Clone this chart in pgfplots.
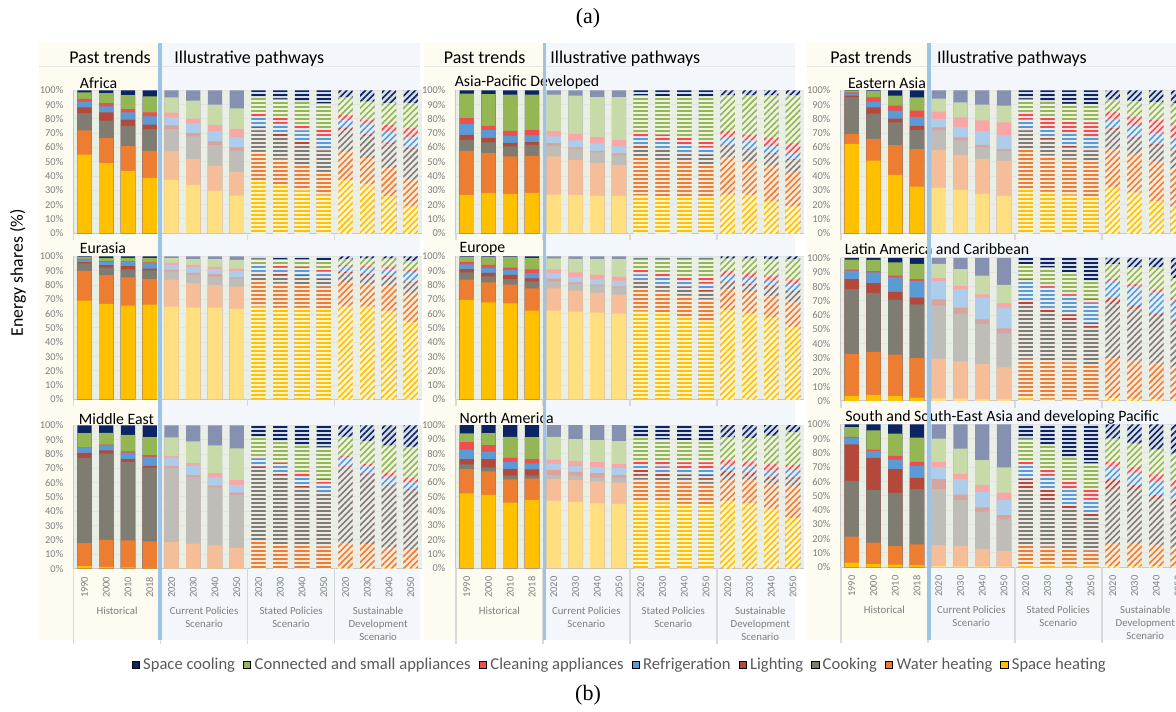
\documentclass[border=0pt]{standalone}
\usepackage{fontspec}
\setmainfont{Carlito}
\newfontfamily\seriffont{Liberation Serif}
\usepackage{pgfplots}
\usepackage{pgfplotstable}
\pgfplotsset{compat=1.18}
\usetikzlibrary{patterns.meta}

\definecolor{cHeat}{HTML}{FFC000}
\definecolor{cWater}{HTML}{ED7D31}
\definecolor{cCook}{HTML}{7F7C72}
\definecolor{cLight}{HTML}{B4493A}
\definecolor{cRefr}{HTML}{5B9BD5}
\definecolor{cClean}{HTML}{F04D4D}
\definecolor{cConn}{HTML}{94B653}
\definecolor{cCool}{HTML}{0D2463}
\definecolor{plotbg}{HTML}{EAEFE6}
\definecolor{cream}{HTML}{FEFBF1}
\definecolor{paleblue}{HTML}{F3F7FB}
\definecolor{sepblue}{HTML}{9DC3E6}
\definecolor{ticktext}{HTML}{7F7F7F}
\definecolor{legtext}{HTML}{595959}
\definecolor{sepgrey}{HTML}{D9D9D9}

% cumulative upper boundaries (%) of each end use, bottom to top; space cooling tops at 100
% x: 0-3 Historical 1990,2000,2010,2018; 4-7 CPS; 8-11 STEPS; 12-15 SDS (2020,2030,2040,2050)
\pgfplotstableread{
x heat water cook light refr clean conn
0 55 72 84 88 92 94 98.6
1 49 66.5 78.7 84.6 88.8 91 98
2 43.7 61.2 75.2 79.4 84.6 86.9 96.7
3 38.8 57.7 72.9 76 81.8 84.6 95.8
4 37.4 57.2 72.9 75.5 81 84.3 95
5 33.9 52.1 67.8 70 76.9 80.1 92.8
6 29.7 47.4 61.7 64.3 71.7 75.9 90
7 26.4 43.2 57.7 60 67.5 73.1 87.4
8 37 57 72 74.5 80.5 84 95
9 33 52 68 70 77 80.5 94
10 30 47 62 64.5 72 76 92
11 27 43 58 60 68 73 91
12 37 57 72 74 79 83 95
13 34 52.5 68 69.5 77 79.5 92
14 26 45.5 62 63.5 71 76 91
15 18.7 37.4 58.4 60 67 73.6 91
}\tAfrica
\pgfplotstableread{
x heat water cook light refr clean conn
0 69.1 90 95.1 96 97.9 98.4 99.5
1 66.8 87 92.3 94 96.3 96.8 98.8
2 65.7 85.4 91 93.5 96 96.5 99
3 66.4 84.2 90.3 91.6 95.4 95.8 99
4 65 83.8 89.6 90.7 94.2 95.6 98.8
5 64.3 81.4 87.2 88.6 92.6 94 98.1
6 64.3 80 86 87.7 91.2 92.8 98.1
7 63.3 78.9 84.7 85.4 90 91.6 97.7
8 65 82.5 88.5 89.5 93.5 94.5 98.5
9 64 81 87 88 92.5 93.5 98
10 64 80.5 86 87 91.5 93 98
11 63 79 83.5 84.5 89.5 91 97.5
12 65 82 88 89 93 94 98
13 65 80.5 87 88 92 93.5 98.5
14 62 80 85.5 86.5 91 93 98.5
15 54 74 81 82 89 91 97
}\tEurasia
\pgfplotstableread{
x heat water cook light refr clean conn
0 1.6 17.8 77.3 80.8 84.3 84.7 94.7
1 1.2 20.1 80.3 82.6 86.1 86.6 94.9
2 0.7 19.7 74.5 76.4 81 81.9 93.5
3 0.5 19 70.6 71.8 78 79.2 91.9
4 0.3 18.5 70.4 71.8 77.3 78.7 91.7
5 0.3 17.4 64.1 65.3 71.8 73.6 88.9
6 0.2 16.2 56.7 57.9 63.7 66.7 86.1
7 0.2 14.6 51.4 53 58.3 61.8 84
8 0.3 18.5 70 71.5 77 79 92
9 0.3 17 65 66.5 72 74 89
10 0.2 16 56.5 58 64 68 86
11 0.2 15.5 53 54 59.5 62.5 85
12 0.3 17.5 71 72 77.5 79 92
13 0.3 17 65.5 66.5 71.5 73 89
14 0.2 14.5 57.5 58.5 64 67 86
15 0.2 13.5 54.5 55.5 60 63.5 85
}\tMiddleEast
\pgfplotstableread{
x heat water cook light refr clean conn
0 26.9 57.7 65.4 68.9 76.6 80.6 97.7
1 28.3 56.1 63.6 66.8 72.4 75.2 97.4
2 27.6 53.7 60.7 63.3 68 71.7 97
3 28.3 54.2 61.9 63.8 68.5 72.4 97
4 27.1 53.7 61.2 63.1 67.8 71.7 97
5 26.9 51.4 59.1 60 65 69.6 96.3
6 26.2 49.3 56.5 57.7 62.9 67.5 95.3
7 26.2 47.9 54.4 55.8 60.7 65.4 95.3
8 26.5 53 60.5 62 67.5 71 96.5
9 26 51 58.5 59.5 64.5 69 96
10 26 50 56 57 62 67 96
11 25 48 54 55 60 64.5 95.5
12 27 53 60.5 61.5 67 71.5 96.5
13 26.5 50.5 58 59 65 69 96.5
14 22.5 47 55 56 61 67 96.5
15 18.7 42.5 51 52 56 63 96.5
}\tAPD
\pgfplotstableread{
x heat water cook light refr clean conn
0 69.6 83.8 88.9 91.2 94.4 96.3 99.5
1 68 81.9 86.1 88.6 92.1 94.2 99.5
2 67.3 80.3 84.2 87.2 90.5 92.3 99.5
3 62.2 77.7 82.6 84.7 88.4 91 99
4 62.2 77.7 82.6 84.5 88.2 91 98.6
5 61.5 76.1 80.7 81.9 85.8 88.9 98.4
6 60.8 74.7 79.6 80.3 84 87.2 98.1
7 60.1 73.3 78.4 79.1 82.6 85.8 98.1
8 62 77.5 82 83.5 87.5 90.5 98.5
9 61 76 80 81 85.5 88.5 98.5
10 57 73 78 79 83 86 98.5
11 54.5 70 75.5 77 81 85 98.5
12 62.5 77 81.5 82.5 87 90 98.5
13 60 75 80 81 85 88.5 98.5
14 57 72 78.5 79.5 83 86.5 98
15 50.5 68 75 76 80.5 84 98
}\tEurope
\pgfplotstableread{
x heat water cook light refr clean conn
0 52.3 69.3 72.6 76.3 83 88.1 94.2
1 51.2 67.7 70.5 76.3 81.6 86 94.4
2 45.8 62.1 64.9 69.3 74.2 77.2 91.9
3 47.7 62.6 64.9 69.1 73.3 76.3 91.6
4 47 62.3 65.1 68.8 72.8 76 91.9
5 46.3 61.6 64.7 67.4 71.6 74.9 90.2
6 45.3 60.7 63.5 66.5 70.5 74.2 89.5
7 44.9 59.8 63.3 65.1 70.2 73 88.8
8 47 62 65 68.5 72.5 76 91.5
9 46 61.5 64 67 71 75 90
10 45 60 63 65.5 70 74 89.5
11 44.5 59.5 62.5 65 69.5 74 89
12 47 61.5 64.5 68 72 76 91.5
13 45.5 61.5 64 67 71 74.5 91
14 41.5 58.5 61.5 64 68 73 92.5
15 35 57.5 62 63.5 68.5 72 95
}\tNAmerica
\pgfplotstableread{
x heat water cook light refr clean conn
0 62.6 69.6 95.3 96.3 97.7 98.6 99.8
1 50.9 66.1 83.6 88.1 92.1 95.1 99.4
2 40.9 61.7 77.6 80.1 85.7 89.3 96.3
3 32.7 58.9 72.4 75.2 81.3 85.7 95.1
4 31.8 58.4 72 74.1 79.9 85 94.2
5 30.4 54.9 65 67.1 74.3 81.1 91.6
6 27.6 52.1 60 61.9 71.3 79 90
7 26.2 50.9 57.7 59.1 68.5 77.6 89.3
8 31 58.5 72 74 79.5 85 94
9 29 54.5 65.5 67.5 73.5 80.5 91.5
10 27 52 60 62 69.5 78 90.5
11 25 50.5 58 59.5 67.5 77.5 90
12 32 58.5 72 73.5 79.5 85 93.5
13 28.5 55.5 66 67.5 75 81.5 92.5
14 22.5 50 61 62.5 70 79.5 91.5
15 18 45 57 58.5 66 77 91
}\tEAsia
\pgfplotstableread{
x heat water cook light refr clean conn
0 3.5 32.9 78.2 85.2 91.1 91.8 98.8
1 4.2 34.3 75.4 82.4 89.9 90.8 98.6
2 3.5 32.4 70.7 76.3 86.4 87.6 96.9
3 2.3 30 67.6 72.3 84 85.2 95.8
4 1.9 29.6 66.9 71.1 84 85.9 95.8
5 1.6 27.7 61 65.3 78.2 80.5 92.3
6 1.2 25.8 54 57 72.3 74.6 87.6
7 1.2 23.5 47.2 50.7 65.3 68.3 81.2
8 1.8 29.5 66.4 71 84 85.2 95.7
9 1.5 28 61.7 65.3 79.8 81.7 93.4
10 1.2 27 56.3 60.5 74.2 75.8 90
11 1 25.3 51.6 54.7 68.8 71.2 84
12 1.8 30 67.6 72.3 84 85.2 95.7
13 1.5 28.2 64 67 80 81.7 93.4
14 1.2 26.5 59.4 61.3 75.8 78 93.4
15 1 24 55.4 57 70 72.3 86
}\tLatAm
\pgfplotstableread{
x heat water cook light refr clean conn
0 3.3 21.4 60.5 86 90.5 91.2 98.1
1 2.3 17.2 54 76.5 81.2 82.3 95.8
2 1.9 14.9 52.1 68.6 75.3 77.9 93.5
3 1.6 16 54.7 62.6 70.9 73.7 90.7
4 0.9 15.6 54.7 61.6 69.8 73.7 90
5 0.7 14.9 47 50.9 61.6 65.1 83
6 0.7 12.8 38.8 41.9 52.8 57.4 74.9
7 0.7 11.4 33.5 36.5 47 52.3 69.8
8 0.9 15.6 54.4 62 71 73.7 90
9 0.8 14.4 47 54 64.4 68 85.3
10 0.7 12.6 40 43.5 54 59.8 76.7
11 0.7 11.6 34.9 37.7 47.7 55 72.6
12 0.9 16.3 54.4 61.6 70.2 73.7 90
13 0.8 16.3 54 57.4 66 70.2 86.5
14 0.7 15.6 47.4 50.5 59.8 65 82.3
15 0.7 14 44.6 47 54.4 61.6 79.5
}\tSAsia

\pgfplotsset{
  bb/.style={ybar, bar width=0.66, bar shift=0pt, draw=none},
  gH/.style={fill=#1},
  gP/.style={fill=#1!50!white},
  gS/.style={fill=#1!16!white, postaction={pattern={Lines[angle=0,distance=2pt,line width=1pt]}, pattern color=#1}},
  gD/.style={fill=#1!16!white, postaction={pattern={Lines[angle=45,distance=2.2pt,line width=0.8pt]}, pattern color=#1}},
  panel/.style={
    scale only axis, width=174pt, height=71.5pt,
    xmin=-0.5, xmax=15.5, ymin=0, ymax=100,
    axis background/.style={fill=plotbg},
    axis x line*=bottom, axis y line*=left,
    axis line style={draw=black!22, line width=0.5pt},
    ytick={0,10,...,100},
    yticklabel={\pgfmathprintnumber[assume math mode=true]{\tick}\%},
    yticklabel style={font=\fontsize{5.2}{6}\selectfont, text=ticktext, inner sep=0pt, anchor=east},
    yticklabel shift=5pt,
    major tick length=0pt,
    ymajorgrids, grid style={draw=black!11, line width=0.5pt},
    xtick=\empty,
    clip=false,
  },
  lastrow/.style={
    xtick={0,...,15},
    xticklabels={1990,2000,2010,2018,2020,2030,2040,2050,2020,2030,2040,2050,2020,2030,2040,2050},
    xticklabel style={rotate=90, anchor=east, font=\fontsize{5.2}{6}\selectfont, text=ticktext, inner sep=0pt},
    xticklabel shift=4pt,
  },
}

\newcommand\grp[3]{%
  \addplot[bb,#3=cCool,restrict x to domain=#2] table[x=x,y expr=100]{#1};
  \addplot[bb,#3=cConn,restrict x to domain=#2] table[x=x,y=conn]{#1};
  \addplot[bb,#3=cClean,restrict x to domain=#2] table[x=x,y=clean]{#1};
  \addplot[bb,#3=cRefr,restrict x to domain=#2] table[x=x,y=refr]{#1};
  \addplot[bb,#3=cLight,restrict x to domain=#2] table[x=x,y=light]{#1};
  \addplot[bb,#3=cCook,restrict x to domain=#2] table[x=x,y=cook]{#1};
  \addplot[bb,#3=cWater,restrict x to domain=#2] table[x=x,y=water]{#1};
  \addplot[bb,#3=cHeat,restrict x to domain=#2] table[x=x,y=heat]{#1};
}
\newcommand\panelbars[1]{\grp{#1}{0:3}{gH}\grp{#1}{4:7}{gP}\grp{#1}{8:11}{gS}\grp{#1}{12:15}{gD}}
\newcommand\stubs{\pgfplotsinvokeforeach{-0.5,3.5,7.5,11.5}{\draw[sepgrey,line width=0.75pt] (axis cs:##1,0) -- ++(0pt,-3.5pt);}}
\newcommand\grouplabels{%
  \pgfplotsinvokeforeach{-0.5,3.5,7.5,11.5}{\draw[sepgrey,line width=0.75pt] (axis cs:##1,0) -- ++(0pt,-38pt);}
  \begin{scope}[every node/.style={anchor=north, align=center, inner sep=0pt, text=ticktext, font=\fontsize{5.4}{6.5}\selectfont}]
  \node at ([yshift=-19.25pt]axis cs:1.5,0) {Historical};
  \node at ([yshift=-19.25pt]axis cs:5.5,0) {Current Policies\\Scenario};
  \node at ([yshift=-19.25pt]axis cs:9.5,0) {Stated Policies\\Scenario};
  \node at ([yshift=-19.25pt]axis cs:13.5,0) {Sustainable\\Development\\Scenario};
  \end{scope}
}

\begin{document}
\begin{tikzpicture}
\path[use as bounding box] (0,0) rectangle (588pt,355.5pt);
\clip (0,0) rectangle (588pt,355.5pt);
% backgrounds
\fill[cream] (19.5pt,35.5pt) rectangle (80pt,334pt);
\fill[paleblue] (80pt,35.5pt) rectangle (210pt,334pt);
\fill[cream] (212pt,35.5pt) rectangle (272pt,334pt);
\fill[paleblue] (272pt,35.5pt) rectangle (397.5pt,334pt);
\fill[cream] (403.5pt,35.5pt) rectangle (464.5pt,334pt);
\fill[paleblue] (464.5pt,35.5pt) rectangle (588pt,334pt);
\draw[black!10,line width=0.5pt] (19.5pt,322.2pt) -- (210pt,322.2pt);
\draw[black!10,line width=0.5pt] (212pt,322.2pt) -- (397.5pt,322.2pt);
\draw[black!10,line width=0.5pt] (403.5pt,322.2pt) -- (588pt,322.2pt);
% headers
\begin{scope}[every node/.style={font=\fontsize{9}{10}\selectfont, inner sep=0pt}]
\node[anchor=base] at (55pt,323.7pt) {Past trends};
\node[anchor=base west] at (87pt,323.7pt) {Illustrative pathways};
\node[anchor=base] at (242.3pt,323.7pt) {Past trends};
\node[anchor=base west] at (275pt,323.7pt) {Illustrative pathways};
\node[anchor=base] at (435.5pt,323.7pt) {Past trends};
\node[anchor=base west] at (468.3pt,323.7pt) {Illustrative pathways};
\end{scope}
\node[rotate=90, font=\fontsize{8.85}{10}\selectfont, inner sep=0pt] at (9pt,219pt) {Energy shares (\%)};
\node[font=\seriffont\fontsize{11}{13}\selectfont, inner sep=0pt] at (294pt,346.5pt) {(a)};
\node[font=\seriffont\fontsize{11}{13}\selectfont, inner sep=0pt] at (294pt,8pt) {(b)};

% column 1
\begin{axis}[panel, at={(36.8pt,238.85pt)}, anchor=south west]
\panelbars{\tAfrica}\stubs
\end{axis}
\begin{axis}[panel, at={(36.8pt,155.75pt)}, anchor=south west]
\panelbars{\tEurasia}\stubs
\end{axis}
\begin{axis}[panel, lastrow, at={(36.8pt,71.25pt)}, anchor=south west]
\panelbars{\tMiddleEast}\grouplabels
\end{axis}
% column 2
\begin{axis}[panel, at={(227.9pt,238.85pt)}, anchor=south west]
\panelbars{\tAPD}\stubs
\end{axis}
\begin{axis}[panel, at={(227.9pt,155.75pt)}, anchor=south west]
\panelbars{\tEurope}\stubs
\end{axis}
\begin{axis}[panel, lastrow, at={(227.9pt,71.4pt)}, anchor=south west]
\panelbars{\tNAmerica}\grouplabels
\end{axis}
% column 3
\begin{axis}[panel, at={(420.4pt,238.85pt)}, anchor=south west]
\panelbars{\tEAsia}\stubs
\end{axis}
\begin{axis}[panel, at={(420.4pt,155pt)}, anchor=south west]
\panelbars{\tLatAm}\stubs
\end{axis}
\begin{axis}[panel, lastrow, at={(420.4pt,71.85pt)}, anchor=south west]
\panelbars{\tSAsia}\grouplabels
\end{axis}

% panel titles
\begin{scope}[every node/.style={font=\fontsize{7.9}{9}\selectfont, inner sep=0pt, anchor=base west}]
\node at (39.75pt,311.25pt) {Africa};
\node at (39.75pt,228.5pt) {Eurasia};
\node at (39.25pt,143.25pt) {Middle East};
\node at (227.2pt,312pt) {Asia-Pacific Developed};
\node at (229.6pt,229pt) {Europe};
\node at (229.6pt,143.75pt) {North America};
\node at (423.8pt,311pt) {Eastern Asia};
\node at (422.2pt,228pt) {Latin America and Caribbean};
\node at (422.5pt,144.75pt) {South and South-East Asia and developing Pacific};
\end{scope}
% separators between past and pathways
\draw[sepblue,line width=1.6pt] (80pt,35.5pt) -- (80pt,334pt);
\draw[sepblue,line width=1.6pt] (272.1pt,35.5pt) -- (272.1pt,334pt);
\draw[sepblue,line width=1.6pt] (464.5pt,35.5pt) -- (464.5pt,334pt);

% legend
\begin{axis}[hide axis, scale only axis, width=10pt, height=10pt, xmin=0, xmax=1, ymin=0, ymax=1,
  at={(309.75pt,23pt)}, anchor=center,
  legend columns=8,
  legend image code/.code={\fill[#1] (0pt,-1.8pt) rectangle (3.6pt,1.8pt);},
  legend style={at={(0.5,0.5)}, anchor=center, draw=none, fill=none,
    font=\fontsize{8.3}{9}\selectfont, text=legtext,
    nodes={inner sep=0.7pt},
    /tikz/every odd column/.append style={column sep=1pt},
    /tikz/every even column/.append style={column sep=3.4pt}}]
\addlegendimage{fill=cCool}\addlegendentry{Space cooling}
\addlegendimage{fill=cConn}\addlegendentry{Connected and small appliances}
\addlegendimage{fill=cClean}\addlegendentry{Cleaning appliances}
\addlegendimage{fill=cRefr}\addlegendentry{Refrigeration}
\addlegendimage{fill=cLight}\addlegendentry{Lighting}
\addlegendimage{fill=cCook}\addlegendentry{Cooking}
\addlegendimage{fill=cWater}\addlegendentry{Water heating}
\addlegendimage{fill=cHeat}\addlegendentry{Space heating}
\end{axis}
\end{tikzpicture}
\end{document}
